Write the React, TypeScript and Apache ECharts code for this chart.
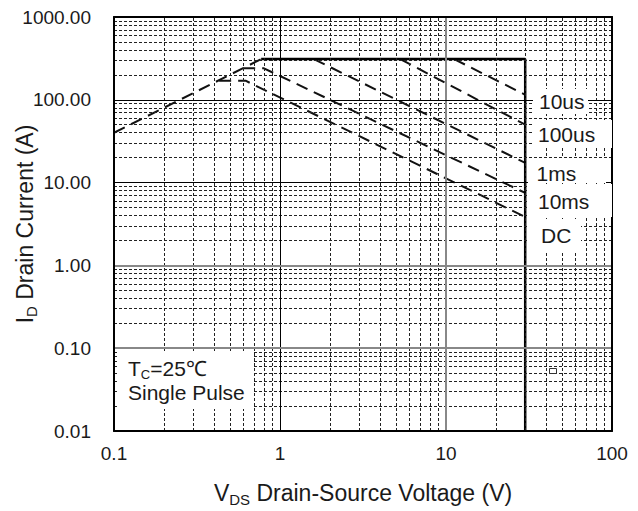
import React, { useEffect, useRef } from "react";
import * as echarts from "echarts";

const FONT = "'Liberation Sans', Arial, Helvetica, sans-serif";
const TEXT = "#1a1a1a";

// ---- tick labels ----
const xTickLabels = ["0.1", "1", "10", "100"];
const yTickLabels = ["0.01", "0.10", "1.00", "10.00", "100.00", "1000.00"];

// ---- grid lines (axis values) ----
const xMinorGrid = [0.2, 0.3, 0.4, 0.5, 0.6, 0.7, 0.8, 0.9, 2, 3, 4, 5, 6, 7, 8, 9, 20, 30, 40, 50, 60, 70, 80, 90];
const yMinorGrid = [
  0.02, 0.03, 0.04, 0.05, 0.06, 0.07, 0.08, 0.09,
  0.2, 0.3, 0.4, 0.5, 0.6, 0.7, 0.8, 0.9,
  2, 3, 4, 5, 6, 7, 8, 9,
  20, 30, 40, 50, 60, 70, 80, 90,
  200, 300, 400, 500, 600, 700, 800, 900,
];
const xMajorGrid = [1, 10];
const yMajorGrid = [0.1, 1, 10, 100];

// ---- curves: V (V) and I (A) ----
const rdsV = [0.1, 0.77];
const rdsI = [40, 310];
const limitV = [0.77, 30, 30];
const limitI = [310, 310, 0.01];
const us10V = [11.2, 30];
const us10I = [310, 115];
const us100V = [5.3, 30];
const us100I = [310, 50];
const ms1V = [1.6, 30];
const ms1I = [310, 17.3];
const ms10V = [0.6, 0.8, 30];
const ms10I = [240, 240, 7.5];
const dcV = [0.43, 0.62, 30];
const dcI = [170, 170, 3.85];

const curveNames = ["10us", "100us", "1ms", "10ms", "DC"];

const zip = (a: number[], b: number[]) => a.map((v, i) => [v, b[i]]);

export default function App() {
  const ref = useRef<HTMLDivElement>(null);
  useEffect(() => {
    document.body.style.margin = "0";
    if (!ref.current) return;
    const chart = echarts.init(ref.current, undefined, { renderer: "svg" });

    const minorStyle = { color: "#222", width: 1, type: [3, 2] as any, opacity: 1 };
    const xMajorStyles: Record<number, any> = {
      1: { color: "#000", width: 1, type: "solid" },
      10: { color: "#888", width: 2, type: "solid" },
    };
    const yMajorStyles: Record<number, any> = {
      0.1: { color: "#888", width: 2, type: "solid" },
      1: { color: "#888", width: 2, type: "solid" },
      10: { color: "#000", width: 1, type: "solid" },
      100: { color: "#000", width: 1, type: "solid" },
    };

    const dashed = { color: "#111", width: 2, type: [12, 7] as any };

    const curve = (name: string, v: number[], i: number[], z = 3) => ({
      type: "line",
      name,
      data: zip(v, i),
      showSymbol: false,
      symbol: "none",
      z,
      lineStyle: dashed,
      silent: true,
    });

    const richName = (size: number, sub: number) => ({
      m: { fontSize: size, fontFamily: FONT, color: TEXT, padding: [0, 0, 3, 0], verticalAlign: "bottom" },
      s: { fontSize: sub, fontFamily: FONT, color: TEXT, verticalAlign: "bottom" },
    });

    const option: any = {
      animation: false,
      grid: { left: 114, top: 17, width: 498, height: 414, containLabel: false, outerBoundsMode: "none" },
      xAxis: [
        {
          type: "log",
          logBase: 10,
          min: 0.1,
          max: 100,
          position: "bottom",
          z: 10,
          axisLine: { show: true, lineStyle: { color: "#000", width: 2 } },
          axisTick: { show: false },
          splitLine: { show: false },
          axisLabel: {
            fontSize: 19,
            fontFamily: FONT,
            color: TEXT,
            margin: 13,
            formatter: (v: number) => xTickLabels[Math.round(Math.log10(v)) + 1] ?? "",
          },
          name: "{m|V}{s|DS}{m| Drain-Source Voltage (V)}",
          nameLocation: "middle",
          nameGap: 50,
          nameMoveOverlap: false,
          nameTextStyle: { rich: richName(23, 15) },
        },
        {
          type: "log",
          logBase: 10,
          min: 0.1,
          max: 100,
          position: "top",
          z: 10,
          axisLine: { show: true, lineStyle: { color: "#000", width: 2 } },
          axisTick: { show: false },
          splitLine: { show: false },
          axisLabel: { show: false },
        },
      ],
      yAxis: [
        {
          type: "log",
          logBase: 10,
          min: 0.01,
          max: 1000,
          position: "left",
          z: 10,
          axisLine: { show: true, lineStyle: { color: "#000", width: 2 } },
          axisTick: { show: false },
          splitLine: { show: false },
          axisLabel: {
            fontSize: 19,
            fontFamily: FONT,
            color: TEXT,
            margin: 23,
            formatter: (v: number) => yTickLabels[Math.round(Math.log10(v)) + 2] ?? "",
          },
          name: "{m|I}{s|D}{m| Drain Current (A)}",
          nameLocation: "middle",
          nameRotate: 90,
          nameGap: 75,
          nameMoveOverlap: false,
          nameTextStyle: { rich: richName(23, 15) },
        },
        {
          type: "log",
          logBase: 10,
          min: 0.01,
          max: 1000,
          position: "right",
          z: 10,
          axisLine: { show: true, lineStyle: { color: "#000", width: 2 } },
          axisTick: { show: false },
          splitLine: { show: false },
          axisLabel: { show: false },
        },
      ],
      series: [
        {
          type: "line",
          name: "grid",
          data: [],
          z: 1,
          silent: true,
          markLine: {
            silent: true,
            symbol: ["none", "none"],
            animation: false,
            label: { show: false },
            data: [
              ...xMinorGrid.map((v) => ({ xAxis: v, lineStyle: minorStyle })),
              ...yMinorGrid.map((v) => ({ yAxis: v, lineStyle: minorStyle })),
              ...xMajorGrid.map((v) => ({ xAxis: v, lineStyle: xMajorStyles[v] })),
              ...yMajorGrid.map((v) => ({ yAxis: v, lineStyle: yMajorStyles[v] })),
            ],
          },
        },
        curve("RDS(on) limit", rdsV, rdsI),
        {
          type: "line",
          name: "limit",
          data: zip(limitV, limitI),
          showSymbol: false,
          symbol: "none",
          z: 4,
          silent: true,
          lineStyle: { color: "#000", width: 2.5, type: "solid" },
        },
        curve(curveNames[0], us10V, us10I),
        curve(curveNames[1], us100V, us100I),
        curve(curveNames[2], ms1V, ms1I),
        curve(curveNames[3], ms10V, ms10I),
        curve(curveNames[4], dcV, dcI),
      ],
    };

    chart.setOption(option);

    // annotation boxes (layout, in pixels)
    const labelBoxes = [
      { r: [533, 89, 55, 25], tx: 539, ty: 101.5 },
      { r: [532, 120, 80, 28], tx: 538, ty: 134 },
      { r: [528, 158, 78, 25], tx: 536.5, ty: 173.5 },
      { r: [528, 184, 84, 33], tx: 538, ty: 201.5 },
      { r: [528, 219, 53, 32], tx: 541, ty: 235.5 },
    ];
    const graphic: any[] = [];
    labelBoxes.forEach((b, k) => {
      graphic.push({
        type: "rect",
        z: 50,
        silent: true,
        shape: { x: b.r[0], y: b.r[1], width: b.r[2], height: b.r[3] },
        style: { fill: "#fff" },
      });
      graphic.push({
        type: "text",
        z: 51,
        silent: true,
        x: b.tx,
        y: b.ty,
        style: {
          text: curveNames[k],
          fontSize: 21,
          fontFamily: FONT,
          fill: TEXT,
          align: "left",
          verticalAlign: "middle",
          textAlign: "left",
          textVerticalAlign: "middle",
        },
      });
    });
    // Tc box
    graphic.push({
      type: "rect",
      z: 50,
      silent: true,
      shape: { x: 118, y: 351, width: 136, height: 58 },
      style: { fill: "#fff" },
    });
    graphic.push({
      type: "text",
      z: 51,
      silent: true,
      x: 128,
      y: 381,
      style: {
        text: "{m|T}{s|C}{m|=25℃}\n{m|Single Pulse}",
        align: "left",
        verticalAlign: "middle",
        textAlign: "left",
        textVerticalAlign: "middle",
        rich: {
          m: { fontSize: 21, lineHeight: 24, fontFamily: FONT, fill: TEXT, padding: [0, 0, 2, 0], verticalAlign: "bottom" },
          s: { fontSize: 13, lineHeight: 13, fontFamily: FONT, fill: TEXT, verticalAlign: "bottom" },
        },
      },
    });
    graphic.push({
      type: "rect",
      z: 52,
      silent: true,
      shape: { x: 549.5, y: 368.5, width: 7, height: 5 },
      style: { fill: "#fff", stroke: "#333", lineWidth: 1 },
    });

    chart.setOption({ graphic });

    return () => chart.dispose();
  }, []);
  return <div ref={ref} style={{ width: 638, height: 511 }} />;
}
